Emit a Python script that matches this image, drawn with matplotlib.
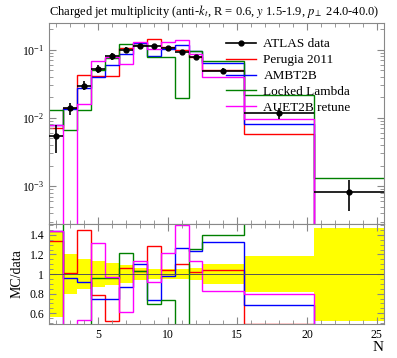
import numpy as np
import matplotlib
matplotlib.use("Agg")
import matplotlib.pyplot as plt
from matplotlib.lines import Line2D
from matplotlib.ticker import LogLocator, MultipleLocator, FixedLocator, NullFormatter

plt.rcParams['font.family'] = ['Liberation Serif', 'DejaVu Serif']
plt.rcParams['mathtext.fontset'] = 'stix'

# bin edges and data
edges = np.array([1.5, 2.5, 3.5, 4.5, 5.5, 6.5, 7.5, 8.5, 9.5, 10.5, 11.5, 12.5, 15.5, 20.5, 25.5])
data = np.array([5.4e-3, 0.0138, 0.0296, 0.052, 0.080, 0.100, 0.113, 0.112, 0.105,
                 0.091, 0.077, 0.048, 0.0119, 8.2e-4])
data_relerr = np.array([0.44, 0.20, 0.15, 0.13, 0.11, 0.09, 0.065, 0.055, 0.055,
                        0.055, 0.065, 0.10, 0.18, 0.475])

# MC predictions
perugia = np.array([7.2e-3, 0.0140, 0.0429, 0.0411, 0.0416, 0.1058, 0.1168, 0.1445, 0.1089,
                    0.1001, 0.0785, 0.0499, 5.8e-3, 0.0])
ambt2b = np.array([7.8e-3, 0.0133, 0.0271, 0.0390, 0.0600, 0.0870, 0.1243, 0.0818, 0.1034,
                   0.1156, 0.0955, 0.0638, 8.15e-3, 0.0])
locked = np.array([0.0130, 6.6e-3, 0.0130, 0.0499, 0.0764, 0.121, 0.117, 0.0773, 0.0777,
                   0.0194, 0.0968, 0.0672, 0.0217, 1.33e-3])
auet2b = np.array([7.8e-3, 0.0, 0.0157, 0.0686, 0.0776, 0.0610, 0.1277, 0.1030, 0.1280,
                   0.137, 0.0870, 0.0397, 9.48e-3, 0.0])

mc_sets = [("Perugia 2011", perugia, "red"),
           ("AMBT2B", ambt2b, "blue"),
           ("Locked Lambda", locked, "green"),
           ("AUET2B retune", auet2b, "magenta")]

centers = 0.5 * (edges[1:] + edges[:-1])
halfw = 0.5 * (edges[1:] - edges[:-1])

fig = plt.figure(figsize=(3.97, 3.58), dpi=100)
ax = fig.add_axes([0.1234, 0.374, 0.8436, 0.5618])
rax = fig.add_axes([0.1234, 0.095, 0.8436, 0.279], sharex=ax)

frame = '#888888'
for a in (ax, rax):
    for s in a.spines.values():
        s.set_color(frame)
        s.set_linewidth(0.8)
    a.tick_params(which='both', direction='in', top=True, right=True, color=frame,
                  labelsize=8.5)
    a.tick_params(which='major', length=5)
    a.tick_params(which='minor', length=3)

# main panel
for name, vals, col in mc_sets:
    ax.stairs(np.where(vals > 0, vals, 1e-9), edges, baseline=None, color=col, lw=1.0)
ax.errorbar(centers, data, xerr=halfw, yerr=data * data_relerr, fmt='o', color='black',
            ms=3.5, elinewidth=1.2, capsize=0, zorder=5)
ax.set_yscale('log')
ax.set_ylim(2.77e-4, 0.245)
ax.set_xlim(1.5, 25.5)
ax.yaxis.set_major_locator(LogLocator(base=10, numticks=10))
ax.yaxis.set_minor_locator(LogLocator(base=10, subs=np.arange(2, 10), numticks=10))
ax.yaxis.set_minor_formatter(NullFormatter())
plt.setp(ax.get_xticklabels(), visible=False)
ax.set_title(r"Charged jet multiplicity (anti-$k_t$, R = 0.6, $y$ 1.5-1.9, $p_\perp$ 24.0-40.0)",
             fontsize=9, loc='left', pad=6)

handles = [Line2D([], [], color='black', marker='o', ms=3.5, lw=1.2)]
labels = ["ATLAS data"]
for name, vals, col in mc_sets:
    handles.append(Line2D([], [], color=col, lw=1.0))
    labels.append(name)
ax.legend(handles, labels, loc='upper left', bbox_to_anchor=(0.53, 0.925), frameon=False,
          fontsize=9.5, handlelength=2.2, handletextpad=0.6, labelspacing=0.28,
          borderpad=0, borderaxespad=0)

# ratio panel
rax.stairs(1 + data_relerr, edges, baseline=1 - data_relerr, fill=True, color='yellow', lw=0)
rax.axhline(1.0, color='#555555', lw=0.7)
for name, vals, col in mc_sets:
    rax.stairs(vals / data, edges, baseline=None, color=col, lw=1.0)
rax.set_ylim(0.49, 1.51)
rax.yaxis.set_major_locator(FixedLocator([0.6, 0.8, 1.0, 1.2, 1.4]))
rax.yaxis.set_major_formatter(matplotlib.ticker.FuncFormatter(lambda v, p: ('%g' % v)))
rax.yaxis.set_minor_locator(MultipleLocator(0.05))
rax.xaxis.set_major_locator(MultipleLocator(5))
rax.xaxis.set_minor_locator(MultipleLocator(1))
rax.set_ylabel("MC/data", fontsize=10)
rax.set_xlabel("N", fontsize=11, loc='right', labelpad=0)

fig.savefig("out.png", dpi=100)
